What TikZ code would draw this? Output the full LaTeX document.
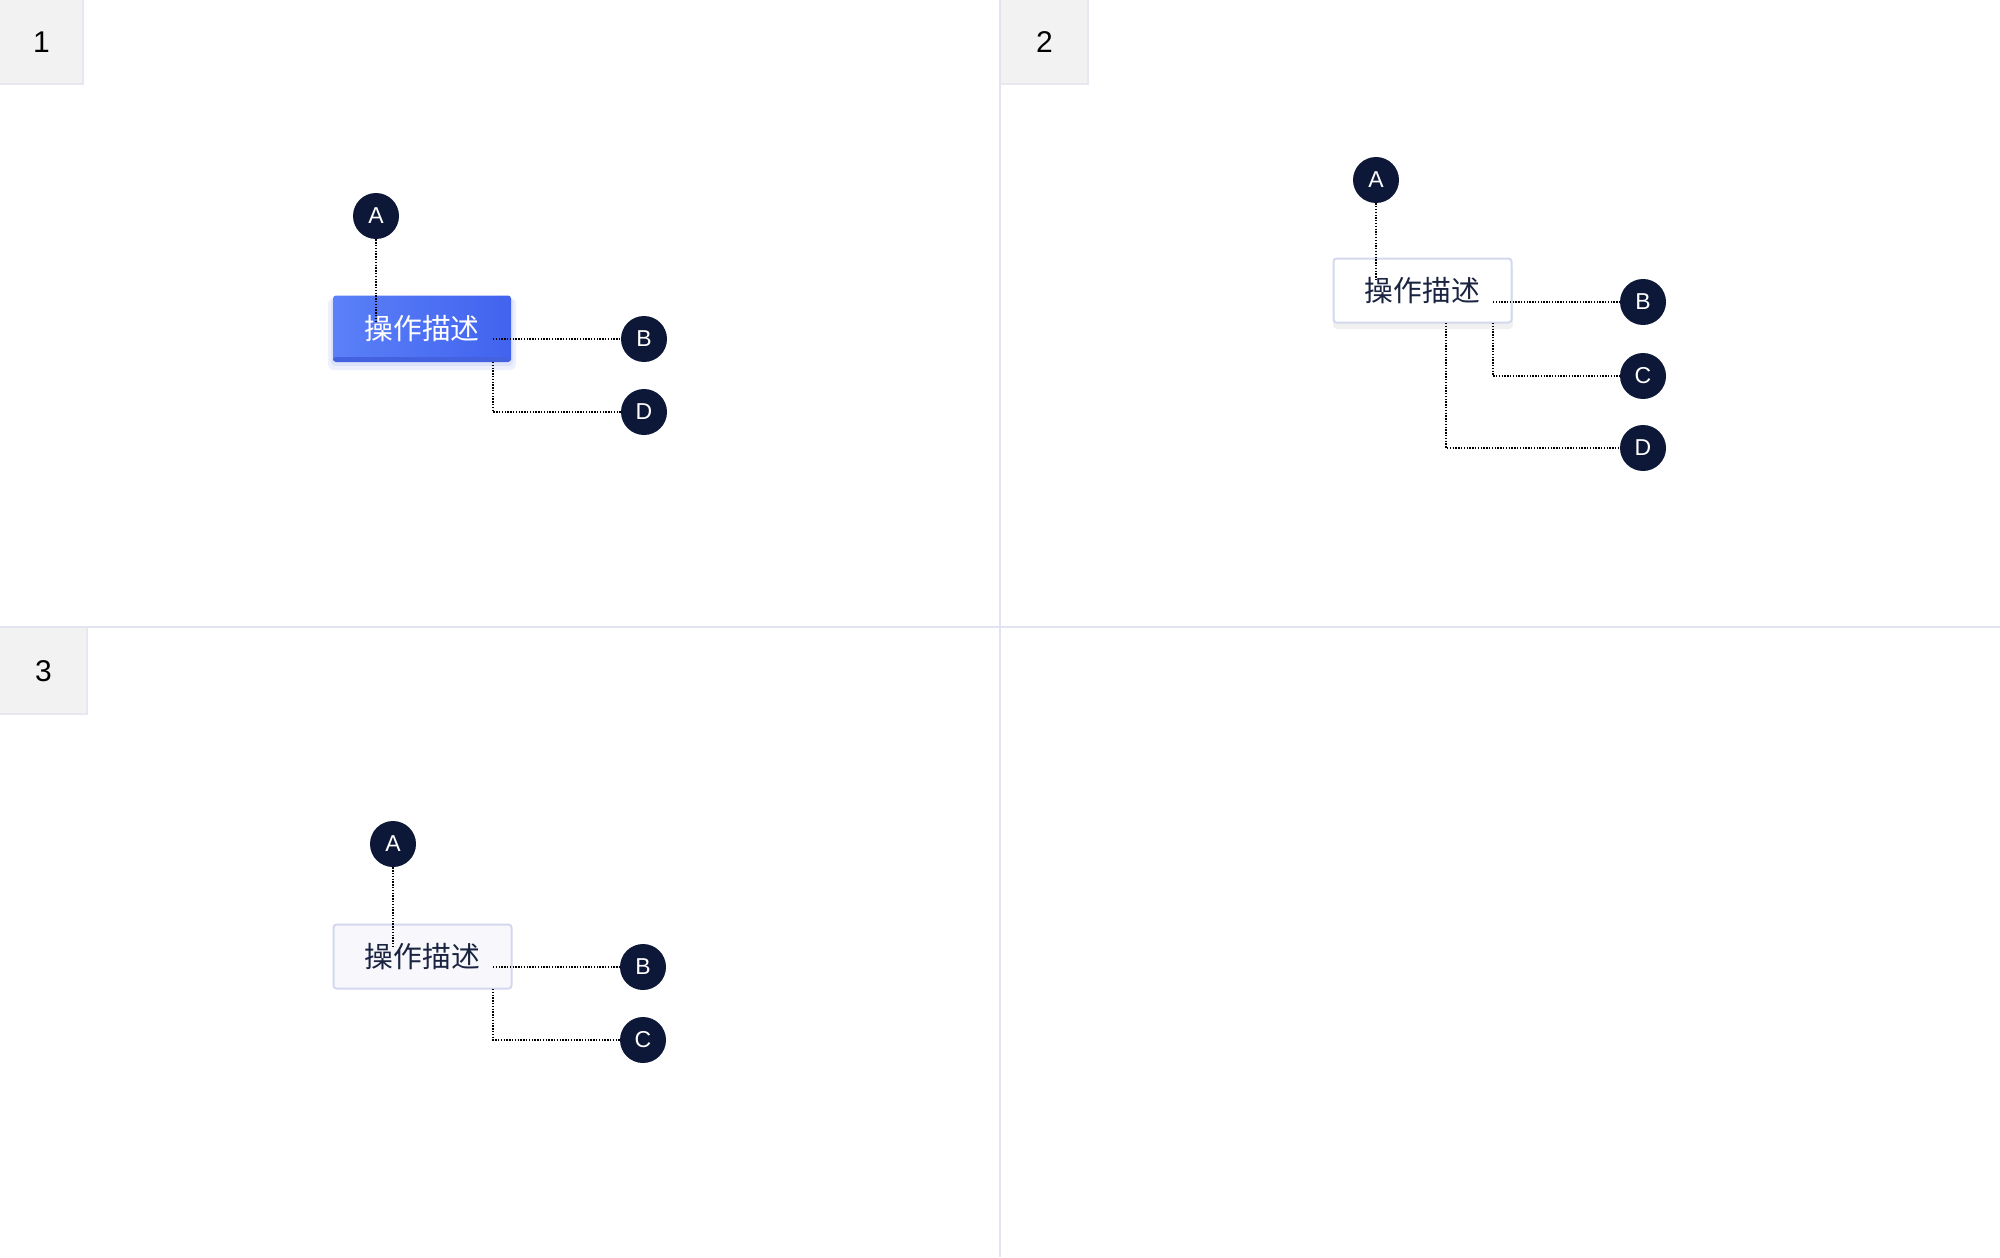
\documentclass[tikz,border=0pt]{standalone}
\usepackage{fontspec}
\setmainfont{Liberation Sans}
\newfontfamily\cjk{Noto Sans CJK SC}
\definecolor{navy}{HTML}{0D1838}
\definecolor{divider}{HTML}{E1E4F0}
\definecolor{tagfill}{HTML}{F2F2F2}
\definecolor{tagedge}{HTML}{E6E7EF}
\definecolor{btnedge}{HTML}{D3D8EE}
\definecolor{btnleft}{HTML}{5B80F8}
\definecolor{btnright}{HTML}{4163EF}
\definecolor{btnbottom}{HTML}{4462E0}
\definecolor{btnglow}{HTML}{C9D3FA}
\definecolor{btntext}{HTML}{1A2440}
\definecolor{ghostfill}{HTML}{F8F8FC}
\begin{document}
\begin{tikzpicture}[x=0.5pt,y=-0.5pt,
  badge/.style={circle, fill=navy, minimum size=23pt, inner sep=0pt, text=white,
    font=\fontsize{11.5}{13}\selectfont},
  leader/.style={line width=0.75pt, black, dash pattern=on 0.65pt off 0.75pt},
  btnbase/.style={rounded corners=1.5pt, minimum width=89pt, minimum height=33pt,
    inner sep=0pt, font=\cjk\fontsize{14.4}{16}\selectfont},
  primarybtn/.style={btnbase, left color=btnleft, right color=btnright, text=white},
  plainbtn/.style={btnbase, draw=btnedge, line width=1pt, text=btntext},
  tag/.style={fill=tagfill, inner sep=0pt, anchor=north west,
    font=\fontsize{15}{17}\selectfont, text=black},
]
\useasboundingbox (0,0) rectangle (2000,1257);
\fill[white] (0,0) rectangle (2000,1257);

% panel dividers
\draw[divider, line width=1pt] (1000,0) -- (1000,1257);
\draw[divider, line width=1pt] (0,627) -- (2000,627);

% panel tags
\node[tag, minimum width=41pt, minimum height=41.5pt] (t1) at (0,0) {1};
\node[tag, minimum width=43pt, minimum height=41.5pt] (t2) at (1001,0) {2};
\node[tag, minimum width=43pt, minimum height=42.5pt] (t3) at (0,628) {3};
\draw[tagedge, line width=0.8pt] (t1.north east) -- (t1.south east) -- (t1.south west);
\draw[tagedge, line width=0.8pt] (t2.north east) -- (t2.south east) -- (t2.south west);
\draw[tagedge, line width=0.8pt] (t3.north east) -- (t3.south east) -- (t3.south west);

% ---------- panel 1 ----------
\fill[btnglow, opacity=0.3, rounded corners=3pt] (328,298) rectangle (516,370);
\fill[btnglow, opacity=0.45, rounded corners=2pt] (331,298) rectangle (513,366);
\node[primarybtn] (btn1) at (422,328.5) {操作描述};
\fill[btnbottom, rounded corners=1.5pt] (333,357) rectangle (511,362);
\node[badge] (A1) at (376,216) {A};
\node[badge] (B1) at (644,339) {B};
\node[badge] (D1) at (644,412) {D};
\coordinate (a1end) at (376,322);
\coordinate (b1s) at (493,339);
\coordinate (d1s) at (493,362);
\draw[leader] (A1.south) -- (a1end);
\draw[leader] (b1s) -- (B1.west);
\draw[leader] (d1s) |- (D1.west);

% ---------- panel 2 ----------
\fill[black!6, rounded corners=2pt] (1333,266) rectangle (1513,329);
\node[plainbtn, fill=white, minimum height=32pt] (btn2) at (1422.5,290.5) {操作描述};
\node[badge] (A2) at (1376,180) {A};
\node[badge] (B2) at (1643,302) {B};
\node[badge] (C2) at (1643,376) {C};
\node[badge] (D2) at (1643,448) {D};
\coordinate (a2end) at (1376,280);
\coordinate (b2s) at (1493,302);
\coordinate (c2s) at (1493,323);
\coordinate (d2s) at (1446,323);
\draw[leader] (A2.south) -- (a2end);
\draw[leader] (b2s) -- (B2.west);
\draw[leader] (c2s) |- (C2.west);
\draw[leader] (d2s) |- (D2.west);

% ---------- panel 3 ----------
\node[plainbtn, fill=ghostfill, minimum height=32pt] (btn3) at (422.5,956.5) {操作描述};
\node[badge] (A3) at (393,844) {A};
\node[badge] (B3) at (643,967) {B};
\node[badge] (C3) at (643,1040) {C};
\coordinate (a3end) at (393,947);
\coordinate (b3s) at (493,967);
\coordinate (c3s) at (493,989);
\draw[leader] (A3.south) -- (a3end);
\draw[leader] (b3s) -- (B3.west);
\draw[leader] (c3s) |- (C3.west);
\end{tikzpicture}
\end{document}
